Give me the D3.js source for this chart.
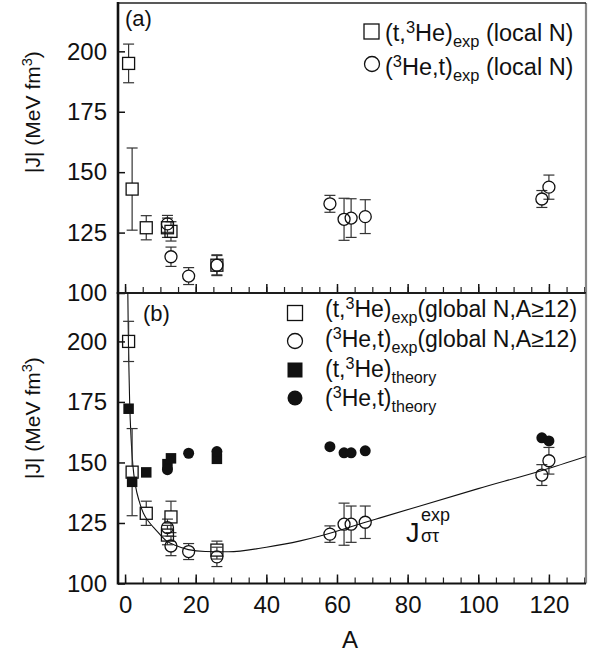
<!DOCTYPE html>
<html><head><meta charset="utf-8">
<script src="https://cdn.jsdelivr.net/npm/d3@7"></script>
<style>
body{margin:0;background:#fff}
text{font-family:"Liberation Sans",Arial,Helvetica,sans-serif;fill:#111;white-space:pre}
</style>
</head><body><svg id="c" width="604" height="657"></svg>
<script>
// ---------- data ----------
const xTickLabels = [0, 20, 40, 60, 80, 100, 120];
const yTickLabels = [100, 125, 150, 175, 200];

// panel (a): local N
const aSqA = [1, 2, 6, 12, 13, 26];
const aSqJ = [195, 143, 127, 127, 125.5, 111.5];
const aSqE = [8, 17, 5, 4, 4, 4.3];
const aCiA = [12, 13, 18, 26, 58, 62, 64, 68, 118, 120];
const aCiJ = [128.6, 115, 107, 111.5, 136.9, 130.5, 131, 131.6, 138.9, 143.8];
const aCiE = [3.5, 4, 3.5, 4, 3.5, 8.7, 8, 7, 3.5, 5];

// panel (b): global N
const bSqA = [1, 2, 6, 12, 13, 26];
const bSqJ = [200, 146, 129, 120, 127.5, 113.8];
const bSqE = [8.3, 18, 5, 4, 6.5, 3.7];
const bCiA = [12, 13, 18, 26, 58, 62, 64, 68, 118, 120];
const bCiJ = [123.1, 115.5, 113.2, 111, 120.4, 124.5, 124.5, 125.3, 144.8, 150.7];
const bCiE = [3.5, 4, 3.3, 4, 3.4, 8.7, 7.5, 6.7, 4.3, 5.5];
const thSqA = [1, 2, 6, 12, 13, 26];
const thSqJ = [172.2, 142, 145.9, 149.3, 151.7, 151.5];
const thCiA = [12, 18, 26, 58, 62, 64, 68, 118, 120];
const thCiJ = [147, 153.8, 154.5, 156.5, 154, 154, 154.8, 160.2, 158.9];

// fitted curve J_sigma-tau^exp
const fitA = [0.78, 0.9, 1.0, 1.3, 1.7, 2.2, 3, 4, 5.2, 7, 8.5, 11.8, 14.2, 17.9, 22.7, 29.3, 40, 49.6, 55.2, 68.5, 72.2, 100, 118.3, 130.5];
const fitJ = [220, 205, 195, 175, 160, 149, 140, 134, 129, 125, 122.5, 117.5, 115.8, 114, 113.2, 113.1, 115, 117.6, 119.6, 125.5, 127.1, 139.2, 146.8, 152.5];

// ---------- layout ----------
const svg = d3.select("#c");
const X0 = 118, X1 = 586;
const x = d3.scaleLinear().domain([-2, 130.5]).range([X0, X1]);
const panels = [
  {y: d3.scaleLinear().domain([100, 220]).range([293, 3]), top: 3, bot: 293},
  {y: d3.scaleLinear().domain([100, 220]).range([583.5, 293]), top: 293, bot: 583.5}
];
const zip = (A, J, E) => A.map((a, i) => ({a, j: J[i], e: E ? E[i] : 0}));

function rich(g, xx, yy, parts, size, anchor) {
  const t = g.append("text").attr("x", xx).attr("y", yy).attr("font-size", size);
  if (anchor) t.attr("text-anchor", anchor);
  let shift = 0;
  parts.forEach(([s, k]) => {
    const target = k === "sup" ? -8 : k === "sub" ? 5.5 : 0;
    t.append("tspan").attr("dy", target - shift)
      .attr("font-size", k === "n" ? size : size * 0.7).text(s);
    shift = target;
  });
  return t;
}

function errBars(g, data, y, r) {
  const eb = g.append("g").attr("stroke", "#333").attr("stroke-width", 1.2);
  data.forEach(d => {
    const cx = x(d.a), yt = y(d.j + d.e), yb = y(d.j - d.e), yc = y(d.j);
    if (yc - r > yt) eb.append("line").attr("x1", cx).attr("x2", cx).attr("y1", yt).attr("y2", yc - r);
    if (yc + r < yb) eb.append("line").attr("x1", cx).attr("x2", cx).attr("y1", yc + r).attr("y2", yb);
    eb.append("line").attr("x1", cx - 5.5).attr("x2", cx + 5.5).attr("y1", yt).attr("y2", yt);
    eb.append("line").attr("x1", cx - 5.5).attr("x2", cx + 5.5).attr("y1", yb).attr("y2", yb);
  });
}
function squares(g, data, y, s, filled) {
  g.append("g").selectAll("rect").data(data).join("rect")
    .attr("x", d => x(d.a) - s / 2).attr("y", d => y(d.j) - s / 2)
    .attr("width", s).attr("height", s)
    .attr("fill", filled ? "#111" : "none").attr("stroke", "#111").attr("stroke-width", filled ? 0 : 1.3);
}
function circles(g, data, y, r, filled) {
  g.append("g").selectAll("circle").data(data).join("circle")
    .attr("cx", d => x(d.a)).attr("cy", d => y(d.j)).attr("r", r)
    .attr("fill", filled ? "#111" : "none").attr("stroke", "#111").attr("stroke-width", filled ? 0 : 1.3);
}

panels.forEach((p, i) => {
  const g = svg.append("g");
  g.append("g").attr("transform", `translate(0,${p.bot})`)
    .call(d3.axisBottom(x).tickValues(d3.range(0, 131, 5)).tickSize(-6).tickFormat(""))
    .call(a => a.select(".domain").remove())
    .call(a => a.selectAll("line").attr("stroke", "#222").attr("stroke-width", 1.2));
  const xa = g.append("g").attr("transform", `translate(0,${p.bot})`)
    .call(d3.axisBottom(x).tickValues(xTickLabels).tickSize(-9).tickPadding(12.5)
      .tickFormat(i === 1 ? d3.format("d") : ""))
    .call(a => a.select(".domain").remove())
    .call(a => a.selectAll("line").attr("stroke", "#111").attr("stroke-width", 1.5));
  xa.selectAll("text").attr("font-size", 24).attr("font-family", null).attr("fill", "#111");
  const ya = g.append("g").attr("transform", `translate(${X0},0)`)
    .call(d3.axisLeft(p.y).tickValues(yTickLabels).tickSize(-7).tickPadding(11).tickFormat(d3.format("d")))
    .call(a => a.select(".domain").remove())
    .call(a => a.selectAll("line").attr("stroke", "#111").attr("stroke-width", 1.5));
  ya.selectAll("text").attr("font-size", 24).attr("font-family", null).attr("fill", "#111");
  g.append("line").attr("x1", X1).attr("x2", X1).attr("y1", p.top).attr("y2", p.bot).attr("stroke", "#888").attr("stroke-width", 2.2);
  g.append("line").attr("x1", X0).attr("x2", X1).attr("y1", p.top).attr("y2", p.top).attr("stroke", "#222").attr("stroke-width", 1.6);
  g.append("line").attr("x1", X0).attr("x2", X1).attr("y1", p.bot).attr("y2", p.bot).attr("stroke", "#111").attr("stroke-width", 2.2);
  g.append("line").attr("x1", X0).attr("x2", X0).attr("y1", p.top - 1).attr("y2", p.bot + 1).attr("stroke", "#111").attr("stroke-width", 2.6);
  const cy = i === 0 ? 112 : 418;
  rich(g.append("g").attr("transform", `translate(40,${cy}) rotate(-90)`), 0, 0,
    [["|J| (MeV fm", "n"], ["3", "sup"], [")", "n"]], 21, "middle");
});

// ---------- panel (a) ----------
const ga = svg.append("g");
const ya = panels[0].y;
const aSq = zip(aSqA, aSqJ, aSqE), aCi = zip(aCiA, aCiJ, aCiE);
errBars(ga, aSq, ya, 6); errBars(ga, aCi, ya, 6);
squares(ga, aSq, ya, 12, false);
circles(ga, aCi, ya, 6, false);
ga.append("text").attr("x", 125).attr("y", 26).attr("font-size", 22).text("(a)");
ga.append("rect").attr("x", 364).attr("y", 24).attr("width", 15).attr("height", 15).attr("fill", "none").attr("stroke", "#111").attr("stroke-width", 1.3);
ga.append("circle").attr("cx", 372).attr("cy", 64).attr("r", 7.5).attr("fill", "none").attr("stroke", "#111").attr("stroke-width", 1.3);
rich(ga, 385, 41, [["(t,", "n"], ["3", "sup"], ["He)", "n"], ["exp", "sub"], [" (local N)", "n"]], 23.5);
rich(ga, 385, 75, [["(", "n"], ["3", "sup"], ["He,t)", "n"], ["exp", "sub"], [" (local N)", "n"]], 23.5);

// ---------- panel (b) ----------
const gb = svg.append("g");
const yb = panels[1].y;
svg.append("clipPath").attr("id", "clipb").append("rect").attr("x", X0).attr("y", 293).attr("width", X1 - X0).attr("height", 291);
gb.append("path").datum(fitA.map((a, i) => ({a, j: fitJ[i]})))
  .attr("clip-path", "url(#clipb)")
  .attr("fill", "none").attr("stroke", "#111").attr("stroke-width", 1.1)
  .attr("d", d3.line().x(d => x(d.a)).y(d => yb(d.j)).curve(d3.curveMonotoneX));
const bSq = zip(bSqA, bSqJ, bSqE), bCi = zip(bCiA, bCiJ, bCiE);
errBars(gb, bSq, yb, 6); errBars(gb, bCi, yb, 6);
squares(gb, bSq, yb, 12, false);
circles(gb, bCi, yb, 6, false);
squares(gb, zip(thSqA, thSqJ), yb, 10.5, true);
circles(gb, zip(thCiA, thCiJ), yb, 5.5, true);
gb.append("text").attr("x", 143).attr("y", 321).attr("font-size", 22).text("(b)");
gb.append("rect").attr("x", 287.5).attr("y", 305.5).attr("width", 15).attr("height", 15).attr("fill", "none").attr("stroke", "#111").attr("stroke-width", 1.3);
gb.append("circle").attr("cx", 295).attr("cy", 341).attr("r", 7.5).attr("fill", "none").attr("stroke", "#111").attr("stroke-width", 1.3);
gb.append("rect").attr("x", 287.5).attr("y", 362.5).attr("width", 15).attr("height", 15).attr("fill", "#111");
gb.append("circle").attr("cx", 295).attr("cy", 398).attr("r", 7.5).attr("fill", "#111");
rich(gb, 325, 317, [["(t,", "n"], ["3", "sup"], ["He)", "n"], ["exp", "sub"], ["(global N,A\u226512)", "n"]], 23);
rich(gb, 325, 347, [["(", "n"], ["3", "sup"], ["He,t)", "n"], ["exp", "sub"], ["(global N,A\u226512)", "n"]], 23);
rich(gb, 325, 377, [["(t,", "n"], ["3", "sup"], ["He)", "n"], ["theory", "sub"]], 23);
rich(gb, 325, 406, [["(", "n"], ["3", "sup"], ["He,t)", "n"], ["theory", "sub"]], 23);
gb.append("text").attr("x", 406).attr("y", 542).attr("font-size", 27).text("J");
gb.append("text").attr("x", 421).attr("y", 521).attr("font-size", 18).text("exp");
gb.append("text").attr("x", 421).attr("y", 542).attr("font-size", 18).text("\u03c3\u03c4");

svg.append("text").attr("x", 350).attr("y", 648).attr("text-anchor", "middle").attr("font-size", 24).text("A");
</script></body></html>
